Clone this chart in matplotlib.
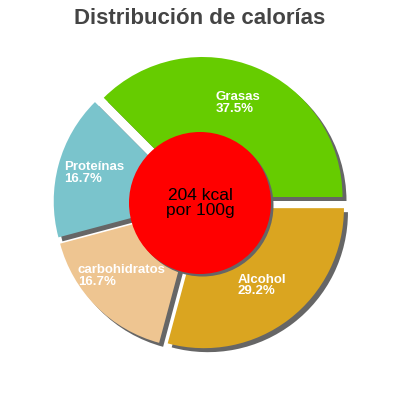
import matplotlib.pyplot as plt
import numpy as np
from matplotlib.patches import Circle

# Data
labels = ["Grasas", "Proteínas", "carbohidratos", "Alcohol"]
percents = [37.5, 16.7, 16.7, 29.2]
colors = ["#66cc00", "#7ac4cc", "#eec591", "#daa520"]
title = "Distribución de calorías"
center_text = "204 kcal\npor 100g"

# Layout (pixels, y up)
CX, CY = 200, 197
R = 140
EXPLODE = 6.5
SHADOW = (4, -4)
HOLE_R = 71

plt.rcParams["font.family"] = ["Liberation Sans", "DejaVu Sans"]

fig = plt.figure(figsize=(4, 4), dpi=100)
ax = fig.add_axes([0, 0, 1, 1])

# shadows first, then the slices on top
ax.pie(percents, colors=["#666666"] * len(percents), radius=R,
       center=(CX + SHADOW[0], CY + SHADOW[1]), explode=[EXPLODE] * len(percents),
       startangle=0, counterclock=True, wedgeprops=dict(linewidth=0))
wedges, _ = ax.pie(percents, colors=colors, radius=R, center=(CX, CY),
                   explode=[EXPLODE] * len(percents), startangle=0,
                   counterclock=True, wedgeprops=dict(linewidth=0))

# slice labels, placed along each slice's mid angle
for w, lab, p in zip(wedges, labels, percents):
    mid = np.deg2rad((w.theta1 + w.theta2) / 2)
    x = CX + 0.76 * R * np.cos(mid) - 3
    y = CY + 0.76 * R * np.sin(mid) + 2
    ax.text(x, y, f"{lab}\n{p:.1f}%", color="white", fontsize=9.5,
            fontweight="bold", ha="center", va="center",
            multialignment="left", linespacing=0.95)

# centre disc
ax.add_patch(Circle((CX + 2.5, CY - 2.5), HOLE_R, color="#666666", lw=0))
ax.add_patch(Circle((CX, CY), HOLE_R, color="#ff0000", lw=0))
ax.text(CX, CY, center_text, ha="center", va="center", fontsize=12.5,
        color="black", linespacing=0.95)

ax.text(200, 382, title, ha="center", va="center", fontsize=16,
        fontweight="bold", color="#444444")

ax.set_xlim(0, 400)
ax.set_ylim(0, 400)
ax.set_aspect("equal")
ax.axis("off")

fig.savefig("out.png", dpi=100)
